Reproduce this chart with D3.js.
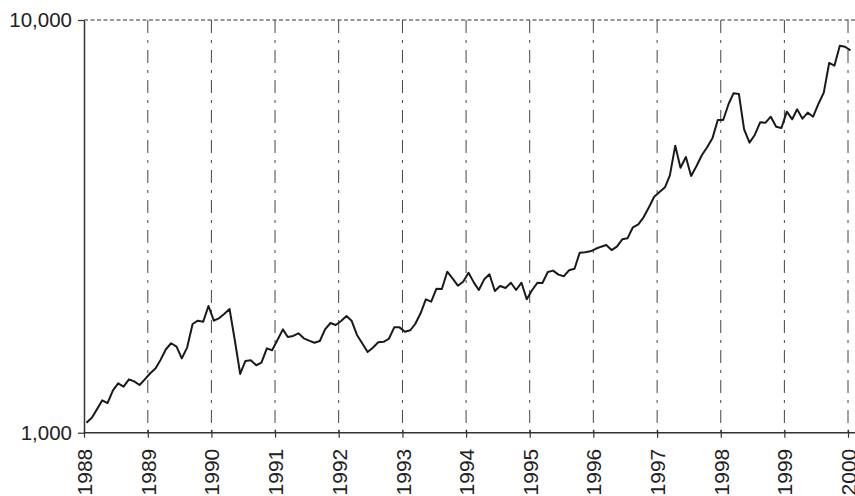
<!DOCTYPE html>
<html>
<head>
<meta charset="utf-8">
<script src="https://cdn.jsdelivr.net/npm/d3@7"></script>
<style>
  body { margin: 0; background: #fff; }
  svg { display: block; }
  text { font-family: "Liberation Sans", Arial, Helvetica, sans-serif; fill: #222; }
</style>
</head>
<body>
<svg id="chart"></svg>
<script>
// monthly index values, Jan 1988 .. Jan 2000
const startYear = 1988;
const values = [
  1057, 1087, 1139, 1198, 1180, 1267, 1317, 1293, 1347, 1332, 1305, 1347,
  1393, 1432, 1501, 1593, 1647, 1616, 1514, 1610, 1834, 1868, 1858, 2028,
  1868, 1896, 1940, 1994, 1677, 1388, 1492, 1498, 1457, 1478, 1601, 1584,
  1677, 1780, 1706, 1716, 1741, 1693, 1671, 1652, 1668, 1780, 1844, 1824,
  1865, 1918, 1868, 1725, 1647, 1569, 1607, 1656, 1660, 1689, 1800, 1800,
  1757, 1771, 1834, 1947, 2105, 2077, 2233, 2230, 2455, 2366, 2271, 2322,
  2442, 2310, 2217, 2353, 2420, 2205, 2267, 2242, 2309, 2217, 2309, 2105,
  2217, 2309, 2305, 2452, 2470, 2415, 2393, 2475, 2497, 2731, 2736, 2751,
  2790, 2823, 2850, 2770, 2823, 2942, 2958, 3146, 3199, 3326, 3517, 3731,
  3830, 3932, 4204, 4960, 4386, 4656, 4188, 4428, 4709, 4916, 5180, 5723,
  5723, 6259, 6643, 6617, 5435, 5044, 5266, 5650, 5640, 5830, 5514, 5474,
  5996, 5746, 6076, 5766, 5963, 5830, 6259, 6666, 7868, 7751, 8663, 8615,
  8444
];
const yearTicks = [1988, 1989, 1990, 1991, 1992, 1993, 1994, 1995, 1996, 1997, 1998, 1999, 2000];
const yTicks = [1000, 10000];

const W = 855, H = 496;
const svg = d3.select("#chart").attr("width", W).attr("height", H);

const mLeft = 84, mRight = 848, mTop = 20, mBottom = 432.7;

const x = d3.scaleTime()
    .domain([new Date(1988, 0, 1), new Date(2000, 0, 1)])
    .range([mLeft, mRight]);
const y = d3.scaleLog().domain([1000, 10000]).range([mBottom, mTop]);

const data = values.map((v, i) => ({ date: new Date(startYear, i, 15), value: v }));
const yearDate = yr => new Date(yr, 0, 1);

// vertical dash-dot grid
svg.append("g")
    .selectAll("line")
    .data(yearTicks.slice(1))
    .join("line")
    .attr("x1", d => x(yearDate(d))).attr("x2", d => x(yearDate(d)))
    .attr("y1", y(10000)).attr("y2", y(1000))
    .style("stroke", "#444").style("stroke-width", 1)
    .style("stroke-dasharray", "13,7,3,7");

// top dashed line
svg.append("line")
    .attr("x1", mLeft).attr("x2", W)
    .attr("y1", y(10000)).attr("y2", y(10000))
    .style("stroke", "#333").style("stroke-width", 1.2)
    .style("stroke-dasharray", "4,2.5");

// x axis
const xAxis = svg.append("g")
    .attr("transform", `translate(0,${mBottom})`)
    .call(d3.axisBottom(x)
        .tickValues(yearTicks.map(yearDate))
        .tickFormat(d3.timeFormat("%Y"))
        .tickSize(5)
        .tickSizeOuter(0));
xAxis.select(".domain").remove();
xAxis.append("line")
    .attr("x1", mLeft).attr("x2", W)
    .attr("y1", 0).attr("y2", 0)
    .style("stroke", "#333").style("stroke-width", 1.5);
xAxis.selectAll(".tick line").attr("y1", -3).style("stroke", "#333").style("stroke-width", 1.2);
xAxis.selectAll(".tick text")
    .attr("transform", "rotate(-90)")
    .attr("x", -16).attr("y", 0).attr("dy", "0.36em")
    .style("text-anchor", "end")
    .style("font-size", "21px")
    .style("font-family", "Liberation Sans, Arial, sans-serif")
    .style("fill", "#222");

// y axis
const yAxis = svg.append("g")
    .attr("transform", `translate(${mLeft},0)`)
    .call(d3.axisLeft(y)
        .tickValues(yTicks)
        .tickFormat(d3.format(","))
        .tickSize(6)
        .tickPadding(6)
        .tickSizeOuter(0));
yAxis.select(".domain").style("stroke", "#333").style("stroke-width", 1.5);
yAxis.selectAll(".tick line").style("stroke", "#333").style("stroke-width", 1.2);
yAxis.selectAll(".tick text")
    .style("font-size", "20.5px")
    .style("font-family", "Liberation Sans, Arial, sans-serif")
    .style("fill", "#222");

// series line
const line = d3.line().x(d => x(d.date)).y(d => y(d.value));
svg.append("path")
    .datum(data)
    .attr("d", line)
    .style("fill", "none")
    .style("stroke", "#1a1a1a")
    .style("stroke-width", 2)
    .style("stroke-linejoin", "round");
</script>
</body>
</html>
